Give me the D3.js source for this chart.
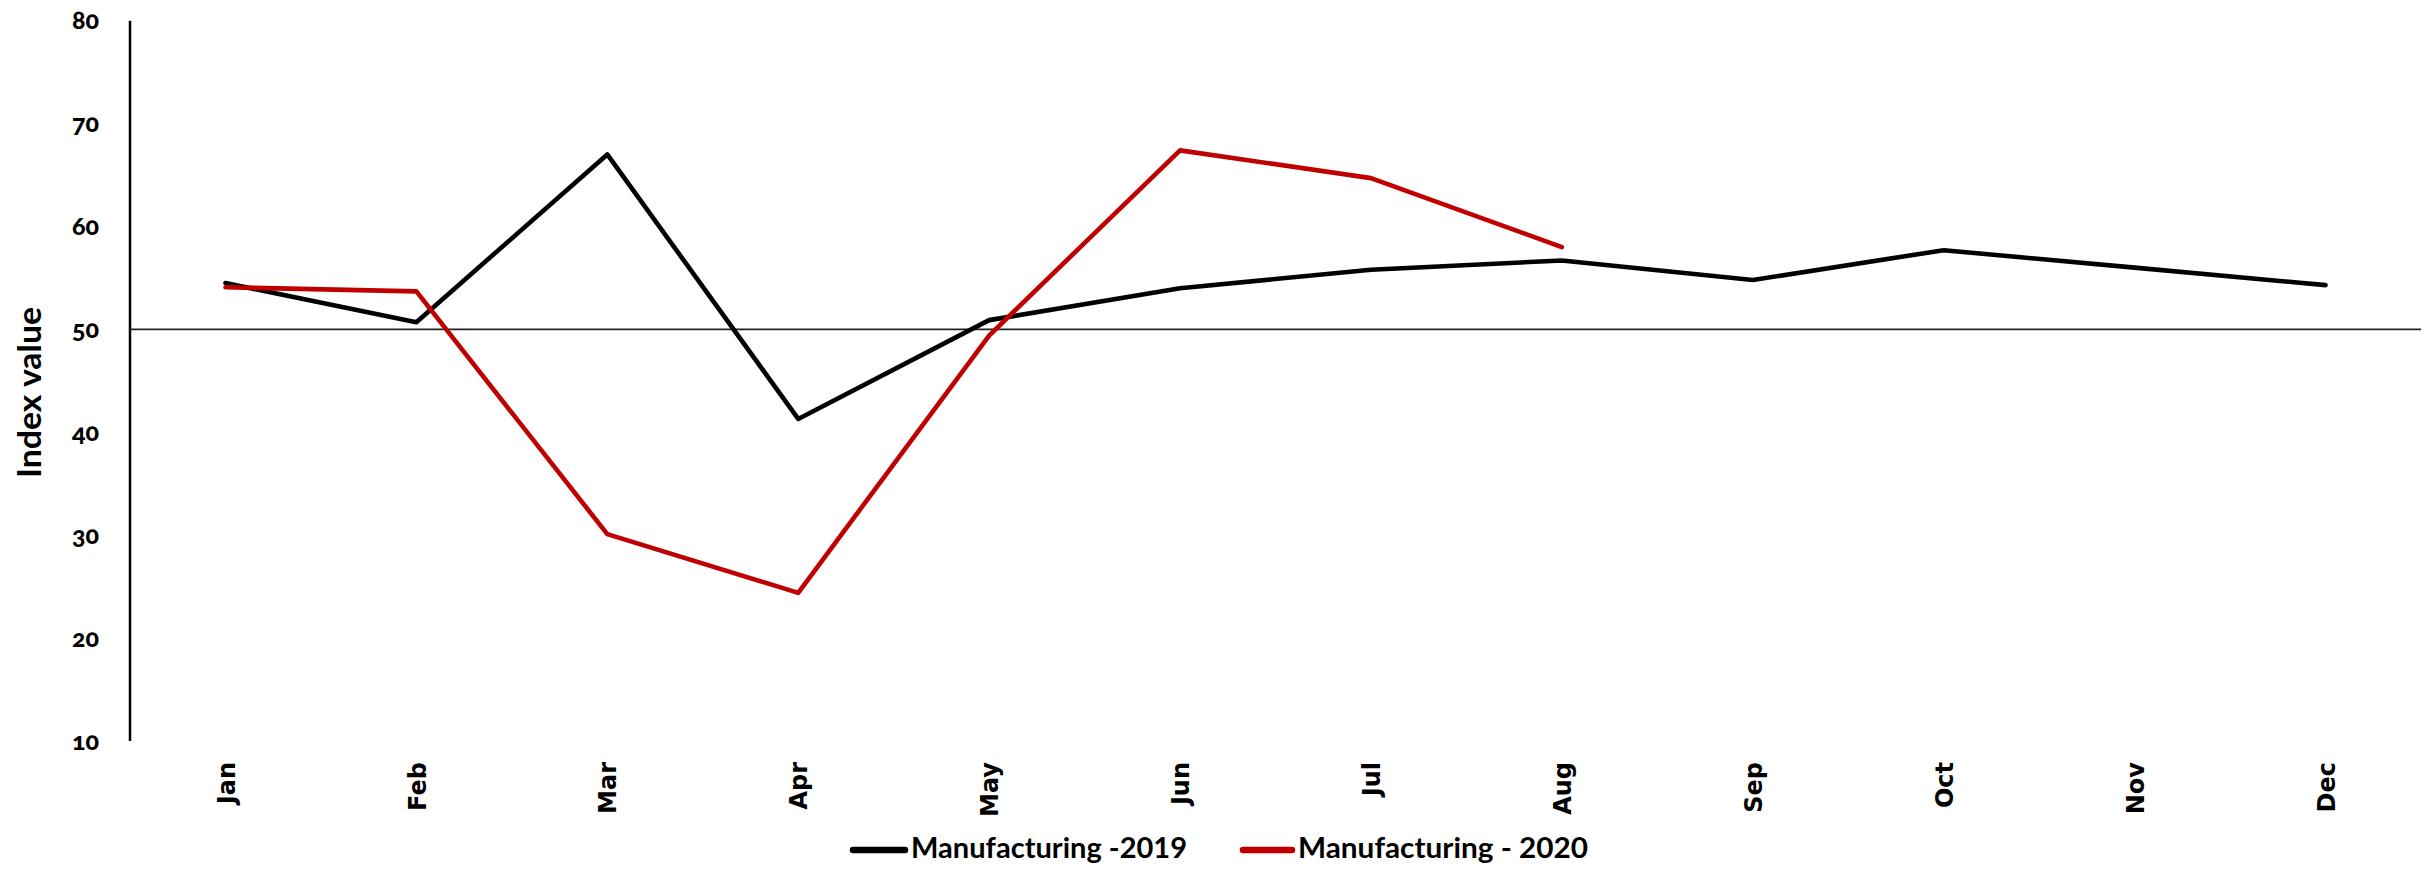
<!DOCTYPE html>
<html>
<head>
<meta charset="utf-8">
<script src="https://cdn.jsdelivr.net/npm/d3@7"></script>
<style>
  html, body { margin: 0; padding: 0; background: #ffffff; }
  svg { display: block; }
</style>
</head>
<body>
<svg id="chart" width="2433" height="873"></svg>
<script>
// Monthly manufacturing index, 2019 vs 2020
const months = ["Jan", "Feb", "Mar", "Apr", "May", "Jun", "Jul", "Aug", "Sep", "Oct", "Nov", "Dec"];
const mfg2019 = [54.5, 50.7, 67.0, 41.3, 50.9, 54.0, 55.8, 56.7, 54.8, 57.7, 56.0, 54.3];
const mfg2020 = [54.1, 53.7, 30.1, 24.4, 49.4, 67.4, 64.7, 58.0];
const yTicks = [10, 20, 30, 40, 50, 60, 70, 80];
const seriesNames = ["Manufacturing -2019", "Manufacturing - 2020"];
const threshold = 50;

const svg = d3.select("#chart");

const plot = { left: 130, right: 2421, top: 20.7, bottom: 741 };

const x = d3.scalePoint()
  .domain(months)
  .range([plot.left, plot.right])
  .padding(0.5);

const y = d3.scaleLinear()
  .domain([10, 80])
  .range([plot.bottom, plot.top]);

// Vertical value axis with labels only
const yAxis = d3.axisLeft(y).tickValues(yTicks).tickSize(0).tickPadding(31);
const gy = svg.append("g")
  .attr("transform", `translate(${plot.left},0)`)
  .call(yAxis);
gy.select(".domain").remove();
gy.selectAll("text")
  .attr("fill", "#000")
  .attr("dy", "0.33em")
  .style("font-family", "Lato, 'Noto Sans', sans-serif")
  .style("font-weight", "900")
  .style("font-size", "25px")
  .style("font-variant-numeric", "oldstyle-nums")
  .style("font-feature-settings", "'onum' 1");

svg.append("line")
  .attr("x1", plot.left).attr("x2", plot.left)
  .attr("y1", y(80)).attr("y2", y(10))
  .attr("stroke", "#000")
  .attr("stroke-width", 2.5);

// Category axis sits on the 50 line; labels are placed below the plot
svg.append("line")
  .attr("x1", plot.left).attr("x2", plot.right)
  .attr("y1", y(threshold)).attr("y2", y(threshold))
  .attr("stroke", "#222")
  .attr("stroke-width", 1.6);

const xAxis = d3.axisBottom(x).tickSize(0).tickPadding(0);
const gx = svg.append("g")
  .attr("transform", `translate(0,762)`)
  .call(xAxis);
gx.select(".domain").remove();
gx.selectAll("text")
  .attr("fill", "#000")
  .attr("transform", "rotate(-90)")
  .attr("text-anchor", "end")
  .attr("x", 0)
  .attr("y", 0)
  .attr("dy", "0.36em")
  .style("font-family", "'DejaVu Sans', Verdana, sans-serif")
  .style("font-weight", "bold")
  .style("font-size", "24px");

// Axis title
svg.append("text")
  .attr("transform", `translate(41,392.5) rotate(-90)`)
  .attr("text-anchor", "middle")
  .attr("textLength", 171)
  .attr("lengthAdjust", "spacingAndGlyphs")
  .style("font-family", "Lato, 'Open Sans', sans-serif")
  .style("font-weight", "bold")
  .style("font-size", "33px")
  .attr("fill", "#000")
  .text("Index value");

// Series lines
const line = d3.line()
  .x((d, i) => x(months[i]))
  .y(d => y(d));

const series = [
  { name: seriesNames[0], values: mfg2019, color: "#000000" },
  { name: seriesNames[1], values: mfg2020, color: "#C00000" }
];

svg.append("g")
  .selectAll("path")
  .data(series)
  .join("path")
  .attr("d", d => line(d.values))
  .attr("fill", "none")
  .attr("stroke", d => d.color)
  .attr("stroke-width", 4.6)
  .attr("stroke-linejoin", "round")
  .attr("stroke-linecap", "round");

// Legend
const legendItems = [
  { x0: 853, x1: 905, tx: 911, tl: 276 },
  { x0: 1243, x1: 1292, tx: 1298, tl: 290 }
];
const legend = svg.append("g");
legendItems.forEach((p, i) => {
  legend.append("line")
    .attr("x1", p.x0).attr("x2", p.x1)
    .attr("y1", 850).attr("y2", 850)
    .attr("stroke", series[i].color)
    .attr("stroke-width", 6.5)
    .attr("stroke-linecap", "round");
  legend.append("text")
    .attr("x", p.tx)
    .attr("y", 858)
    .attr("textLength", p.tl)
    .attr("lengthAdjust", "spacingAndGlyphs")
    .style("font-family", "Lato, 'Open Sans', sans-serif")
    .style("font-weight", "bold")
    .style("font-size", "28px")
    .attr("fill", "#000")
    .text(series[i].name);
});
</script>
</body>
</html>
